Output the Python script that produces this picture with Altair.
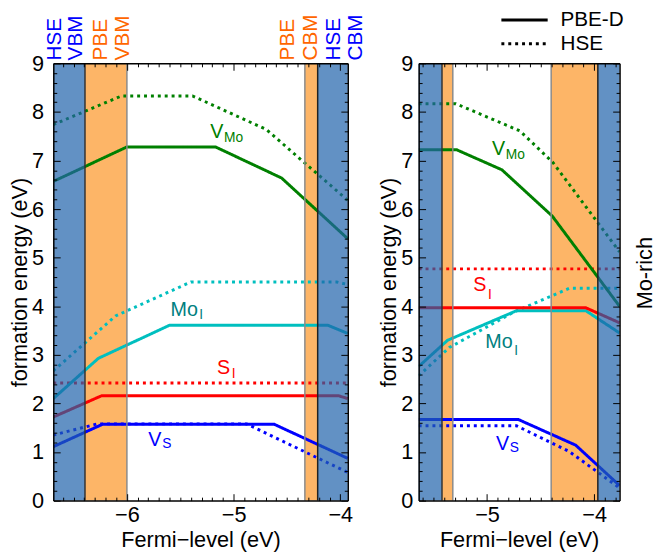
import altair as alt
import pandas as pd

FONT = "Liberation Sans"
H = 444
LW, RW = 299, 204

SPECIES = ["VMo", "MoI", "SI", "VS"]
LINE_COLORS = ["#008000", "#00bfbf", "#ff0000", "#0000ff"]
LABEL_COLORS = ["#008000", "#008080", "#ff0000", "#0000ff"]
METHODS = ["HSE", "PBE-D"]

# ---------------- left panel data ----------------
L_DOMAIN = [-6.69, -3.93]
L_VMO_PBE_X = [-6.69, -6.0, -5.17, -4.55, -3.93]
L_VMO_PBE_Y = [6.57, 7.28, 7.28, 6.64, 5.39]
L_VMO_HSE_X = [-6.69, -6.05, -5.385, -4.694, -3.93]
L_VMO_HSE_Y = [7.74, 8.33, 8.33, 7.64, 6.18]
L_MOI_PBE_X = [-6.69, -6.267, -5.6, -4.116, -3.93]
L_MOI_PBE_Y = [2.10, 2.93, 3.61, 3.61, 3.44]
L_MOI_HSE_X = [-6.69, -6.107, -5.40, -4.033, -3.93]
L_MOI_HSE_Y = [2.67, 3.80, 4.50, 4.50, 4.45]
L_SI_PBE_X = [-6.69, -6.236, -4.018, -3.93]
L_SI_PBE_Y = [1.72, 2.16, 2.16, 2.10]
L_SI_HSE_X = [-6.69, -3.93]
L_SI_HSE_Y = [2.42, 2.42]
L_VS_PBE_X = [-6.69, -6.23, -4.618, -3.93]
L_VS_PBE_Y = [1.11, 1.57, 1.57, 0.87]
L_VS_HSE_X = [-6.69, -6.276, -4.878, -3.93]
L_VS_HSE_Y = [1.35, 1.58, 1.58, 0.58]
L_EDGES = {"hse_vbm": -6.393, "pbe_vbm": -6.0, "pbe_cbm": -4.332, "hse_cbm": -4.212}

# ---------------- right panel data ----------------
R_DOMAIN = [-5.639, -3.762]
R_VMO_PBE_X = [-5.639, -5.283, -4.862, -4.392, -3.762]
R_VMO_PBE_Y = [7.22, 7.22, 6.81, 5.86, 4.0]
R_VMO_HSE_X = [-5.639, -5.292, -4.693, -4.385, -3.762]
R_VMO_HSE_Y = [8.17, 8.17, 7.61, 6.96, 5.12]
R_MOI_PBE_X = [-5.639, -5.369, -4.724, -4.078, -3.762]
R_MOI_PBE_Y = [2.76, 3.30, 3.91, 3.91, 3.45]
R_MOI_HSE_X = [-5.639, -5.353, -4.75, -4.232, -3.762]
R_MOI_HSE_Y = [2.57, 3.15, 3.88, 4.37, 4.37]
R_SI_PBE_X = [-5.639, -4.078, -3.762]
R_SI_PBE_Y = [3.97, 3.97, 3.66]
R_SI_HSE_X = [-5.639, -3.762]
R_SI_HSE_Y = [4.77, 4.77]
R_VS_PBE_X = [-5.639, -4.708, -4.171, -3.762]
R_VS_PBE_Y = [1.67, 1.67, 1.14, 0.31]
R_VS_HSE_X = [-5.639, -4.724, -4.232, -3.762]
R_VS_HSE_Y = [1.54, 1.54, 1.01, 0.26]
R_EDGES = {"hse_vbm": -5.421, "pbe_vbm": -5.32, "pbe_cbm": -4.401, "hse_cbm": -3.965}

# ---------------- species labels (main + subscript) ----------------
LABEL_MAIN = ["V", "Mo", "S", "V"]
LABEL_SUB = ["Mo", "I", "I", "S"]
L_LABEL_X = [-5.219, -5.591, -5.155, -5.80]
L_LABEL_Y = [7.47, 3.81, 2.61, 1.13]
L_SUB_X = [-5.090, -5.322, -5.018, -5.668]
L_SUB_Y = [7.39, 3.73, 2.52, 1.075]
R_LABEL_X = [-4.954, -5.016, -5.129, -4.917]
R_LABEL_Y = [7.11, 3.15, 4.31, 1.04]
R_SUB_X = [-4.825, -4.747, -4.992, -4.787]
R_SUB_Y = [7.03, 3.00, 4.16, 1.01]

# ---------------- top band-edge labels (left panel) ----------------
TOP_TEXT = ["HSE", "VBM", "PBE", "VBM", "PBE", "CBM", "HSE", "CBM"]
TOP_X = [-6.676, -6.477, -6.238, -6.04, -4.487, -4.275, -4.058, -3.851]
TOP_COLOR = ["#0000ff", "#0000ff", "#ff6600", "#ff6600", "#ff6600", "#ff6600", "#0000ff", "#0000ff"]

Y_MAJOR = list(range(0, 10))
Y_MINOR = [round(0.2 * i, 1) for i in range(46) if i % 5 != 0]


def lines_df(series):
    rows = []
    for sp, meth, xs, ys in series:
        for i, (x, y) in enumerate(zip(xs, ys)):
            rows.append({"species": sp, "method": meth, "key": sp + meth, "idx": i, "x": x, "y": y})
    return pd.DataFrame(rows)


def panel(domain, W, series, edges, lab_x, lab_y, sub_x, sub_y, x_major, label_pad, extra_layers):
    xs = alt.Scale(domain=domain, nice=False, zero=False)
    ys = alt.Scale(domain=[0, 9], nice=False, zero=False)
    lo, hi = domain
    x_minor = [round(v / 10, 1) for v in range(int(round(lo * 10)) - 1, int(round(hi * 10)) + 2)
               if lo <= v / 10 <= hi and v % 10 != 0]

    ax_df = pd.DataFrame({"x": domain, "y": [0, 9]})

    def axlayer(xaxis, yaxis):
        return alt.Chart(ax_df).mark_point(opacity=0).encode(
            x=alt.X("x:Q", scale=xs, axis=xaxis),
            y=alt.Y("y:Q", scale=ys, axis=yaxis),
        )

    common = dict(grid=False, zindex=1, domainColor="black", domainWidth=1.5,
                  tickColor="black", tickWidth=1)
    a1 = axlayer(
        alt.Axis(orient="bottom", values=x_major, format="d", ticks=False, domain=True,
                 labelFontSize=22, labelFont=FONT, labelPadding=4, title="Fermi\u2212level (eV)",
                 titleFont=FONT, titleFontSize=22, titleFontWeight="normal", titlePadding=5,
                 labelColor="black", titleColor="black", **common),
        alt.Axis(orient="left", values=Y_MAJOR, format="d", ticks=False, domain=True,
                 labelFontSize=22, labelFont=FONT, labelPadding=label_pad, title="formation energy (eV)",
                 titleFont=FONT, titleFontSize=22, titleFontWeight="normal", titlePadding=0,
                 labelColor="black", titleColor="black", **common),
    )
    a2 = axlayer(
        alt.Axis(orient="top", offset=-H, values=x_major, labels=False, domain=False, tickSize=7, title=None, **common),
        alt.Axis(orient="right", offset=-W, values=Y_MAJOR, labels=False, domain=False, tickSize=7, title=None, **common),
    )
    a3 = axlayer(
        alt.Axis(orient="bottom", offset=-H, values=x_major, labels=False, domain=True, tickSize=7, title=None, **common),
        alt.Axis(orient="left", offset=-W, values=Y_MAJOR, labels=False, domain=True, tickSize=7, title=None, **common),
    )
    a4 = axlayer(
        alt.Axis(orient="top", offset=-H, values=x_minor, labels=False, domain=False, tickSize=3.5, title=None, **common),
        alt.Axis(orient="right", offset=-W, values=Y_MINOR, labels=False, domain=False, tickSize=3.5, title=None, **common),
    )
    a5 = axlayer(
        alt.Axis(orient="bottom", offset=-H, values=x_minor, labels=False, domain=False, tickSize=3.5, title=None, **common),
        alt.Axis(orient="left", offset=-W, values=Y_MINOR, labels=False, domain=False, tickSize=3.5, title=None, **common),
    )

    orange_df = pd.DataFrame({"x0": [edges["hse_vbm"], edges["pbe_cbm"]],
                              "x1": [edges["pbe_vbm"], edges["hse_cbm"]]})
    blue_df = pd.DataFrame({"x0": [lo, edges["hse_cbm"]], "x1": [edges["hse_vbm"], hi]})
    edge_df = pd.DataFrame({"x": [edges["hse_vbm"], edges["pbe_vbm"], edges["pbe_cbm"], edges["hse_cbm"]],
                            "c": ["#333333", "#8a8a8a", "#8a8a8a", "#222222"]})

    orange = alt.Chart(orange_df).mark_rect(color="#fdb567").encode(
        x=alt.X("x0:Q", scale=xs, axis=None), x2="x1:Q", y=alt.value(0), y2=alt.value(H))
    blue = alt.Chart(blue_df).mark_rect(color="#1f63ab", opacity=0.7).encode(
        x=alt.X("x0:Q", scale=xs, axis=None), x2="x1:Q", y=alt.value(0), y2=alt.value(H))
    edge = alt.Chart(edge_df).mark_rule(strokeWidth=1.5).encode(
        x=alt.X("x:Q", scale=xs, axis=None), y=alt.value(0), y2=alt.value(H),
        color=alt.Color("c:N", scale=None))

    df = lines_df(series)
    color = alt.Color("species:N", scale=alt.Scale(domain=SPECIES, range=LINE_COLORS), legend=None)

    def line_layer(meth, dash):
        return alt.Chart(df[df.method == meth]).mark_line(strokeWidth=3, clip=True, strokeDash=dash).encode(
            x=alt.X("x:Q", scale=xs, axis=None), y=alt.Y("y:Q", scale=ys, axis=None),
            color=color, detail="key:N", order="idx:Q")

    hse = line_layer("HSE", [3, 4])
    pbe = line_layer("PBE-D", [1, 0])

    lab_df = pd.DataFrame({"t": LABEL_MAIN, "x": lab_x, "y": lab_y, "c": LABEL_COLORS})
    sub_df = pd.DataFrame({"t": LABEL_SUB, "x": sub_x, "y": sub_y, "c": LABEL_COLORS})
    labs = alt.Chart(lab_df).mark_text(font=FONT, fontSize=20, align="left", baseline="alphabetic").encode(
        x=alt.X("x:Q", scale=xs, axis=None), y=alt.Y("y:Q", scale=ys, axis=None), text="t:N",
        color=alt.Color("c:N", scale=None))
    subs = alt.Chart(sub_df).mark_text(font=FONT, fontSize=14, align="left", baseline="alphabetic").encode(
        x=alt.X("x:Q", scale=xs, axis=None), y=alt.Y("y:Q", scale=ys, axis=None), text="t:N",
        color=alt.Color("c:N", scale=None))

    layers = [orange, hse, pbe, blue, edge, labs, subs, a1, a2, a3, a4, a5] + extra_layers(xs)
    return alt.layer(*layers).resolve_axis(x="independent", y="independent").properties(width=W, height=H)


def left_extra(xs):
    top_df = pd.DataFrame({"t": TOP_TEXT, "x": TOP_X, "c": TOP_COLOR})
    top = alt.Chart(top_df).mark_text(font=FONT, fontSize=21, angle=270, align="left", baseline="middle").encode(
        x=alt.X("x:Q", scale=xs, axis=None), y=alt.value(-3), text="t:N", color=alt.Color("c:N", scale=None))
    return [top]


def right_extra(xs):
    one = pd.DataFrame({"k": [0]})
    solid = alt.Chart(one).mark_rule(color="black", strokeWidth=3).encode(
        x=alt.value(84), x2=alt.value(131), y=alt.value(-44))
    dotted = alt.Chart(one).mark_rule(color="black", strokeWidth=3, strokeDash=[3, 4]).encode(
        x=alt.value(84), x2=alt.value(131), y=alt.value(-20))
    t1 = alt.Chart(one).mark_text(text="PBE-D", font=FONT, fontSize=21, align="left", baseline="middle",
                                  color="black").encode(x=alt.value(144), y=alt.value(-44))
    t2 = alt.Chart(one).mark_text(text="HSE", font=FONT, fontSize=21, align="left", baseline="middle",
                                  color="black").encode(x=alt.value(144), y=alt.value(-20))
    mo = alt.Chart(one).mark_text(text="Mo-rich", font=FONT, fontSize=22, angle=270, align="center",
                                  baseline="middle", color="black").encode(x=alt.value(230), y=alt.value(213))
    return [solid, dotted, t1, t2, mo]


left_series = [
    ("VMo", "PBE-D", L_VMO_PBE_X, L_VMO_PBE_Y), ("VMo", "HSE", L_VMO_HSE_X, L_VMO_HSE_Y),
    ("MoI", "PBE-D", L_MOI_PBE_X, L_MOI_PBE_Y), ("MoI", "HSE", L_MOI_HSE_X, L_MOI_HSE_Y),
    ("SI", "PBE-D", L_SI_PBE_X, L_SI_PBE_Y), ("SI", "HSE", L_SI_HSE_X, L_SI_HSE_Y),
    ("VS", "PBE-D", L_VS_PBE_X, L_VS_PBE_Y), ("VS", "HSE", L_VS_HSE_X, L_VS_HSE_Y),
]
right_series = [
    ("VMo", "PBE-D", R_VMO_PBE_X, R_VMO_PBE_Y), ("VMo", "HSE", R_VMO_HSE_X, R_VMO_HSE_Y),
    ("MoI", "PBE-D", R_MOI_PBE_X, R_MOI_PBE_Y), ("MoI", "HSE", R_MOI_HSE_X, R_MOI_HSE_Y),
    ("SI", "PBE-D", R_SI_PBE_X, R_SI_PBE_Y), ("SI", "HSE", R_SI_HSE_X, R_SI_HSE_Y),
    ("VS", "PBE-D", R_VS_PBE_X, R_VS_PBE_Y), ("VS", "HSE", R_VS_HSE_X, R_VS_HSE_Y),
]

left = panel(L_DOMAIN, LW, left_series, L_EDGES, L_LABEL_X, L_LABEL_Y, L_SUB_X, L_SUB_Y,
             [-6, -5, -4], 10, left_extra)
right = panel(R_DOMAIN, RW, right_series, R_EDGES, R_LABEL_X, R_LABEL_Y, R_SUB_X, R_SUB_Y,
              [-5, -4], 6, right_extra)

chart = alt.hconcat(left, right, spacing=72, bounds="flush").properties(
    padding={"left": 0, "top": -3, "right": 0, "bottom": 0}
).configure_view(stroke=None)

chart.save("out.html", embed_options={"renderer": "svg", "actions": False})
